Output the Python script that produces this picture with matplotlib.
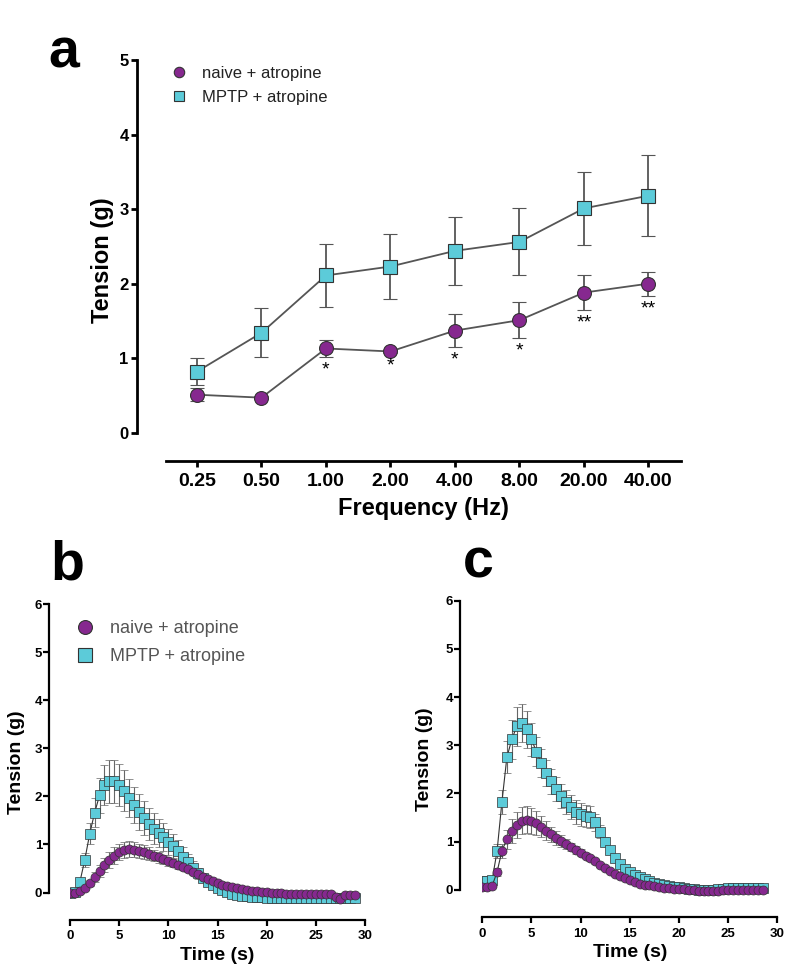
import numpy as np
import matplotlib.pyplot as plt
from matplotlib.lines import Line2D

plt.rcParams['font.family'] = ['Liberation Sans', 'DejaVu Sans']

# ---- panel a: tension vs stimulation frequency ----
freq_labels = ['0.25', '0.50', '1.00', '2.00', '4.00', '8.00', '20.00', '40.00']
naive_a = [0.51, 0.47, 1.13, 1.09, 1.37, 1.51, 1.88, 2.00]
naive_a_err = [0.09, 0.02, 0.12, 0.02, 0.22, 0.24, 0.24, 0.16]
mptp_a = [0.82, 1.34, 2.11, 2.23, 2.44, 2.56, 3.01, 3.18]
mptp_a_err = [0.18, 0.33, 0.42, 0.43, 0.46, 0.45, 0.49, 0.54]
stars_a = ['', '', '*', '*', '*', '*', '**', '**']

# ---- panel b: time course ----
time_b = np.arange(0, 29.5, 0.5)
naive_b = [0.00, 0.00, 0.03, 0.10, 0.20, 0.32, 0.45, 0.57, 0.68, 0.77,
           0.84, 0.88, 0.90, 0.89, 0.87, 0.84, 0.81, 0.77, 0.73, 0.69,
           0.65, 0.61, 0.57, 0.53, 0.48, 0.43, 0.38, 0.33, 0.28, 0.24,
           0.20, 0.16, 0.13, 0.11, 0.09, 0.07, 0.05, 0.04, 0.03, 0.02,
           0.01, 0.00, 0.00, -0.01, -0.02, -0.02, -0.02, -0.02, -0.02, -0.02,
           -0.02, -0.02, -0.02, -0.02, -0.10, -0.13, -0.06, -0.06, -0.06]
naive_b_err = [0.00, 0.00, 0.02, 0.04, 0.07, 0.10, 0.12, 0.14, 0.16, 0.17,
               0.17, 0.17, 0.17, 0.16, 0.15, 0.14, 0.13, 0.12, 0.11, 0.10,
               0.09, 0.08, 0.07, 0.07, 0.06, 0.05, 0.05, 0.04, 0.04, 0.03,
               0.03, 0.03, 0.02, 0.02, 0.02, 0.02, 0.02, 0.02, 0.02, 0.02,
               0.02, 0.02, 0.02, 0.02, 0.02, 0.02, 0.02, 0.02, 0.02, 0.02,
               0.02, 0.02, 0.02, 0.02, 0.02, 0.02, 0.02, 0.02, 0.02]
mptp_b = [0.00, 0.02, 0.22, 0.68, 1.22, 1.66, 2.02, 2.24, 2.31, 2.31,
          2.24, 2.12, 1.97, 1.82, 1.68, 1.55, 1.43, 1.33, 1.24, 1.15,
          1.06, 0.96, 0.86, 0.75, 0.63, 0.51, 0.40, 0.30, 0.22, 0.15,
          0.10, 0.05, 0.01, -0.02, -0.05, -0.07, -0.08, -0.09, -0.10, -0.10,
          -0.11, -0.11, -0.11, -0.11, -0.11, -0.11, -0.11, -0.11, -0.11, -0.11,
          -0.11, -0.11, -0.11, -0.11, -0.12, -0.12, -0.11, -0.11, -0.11]
mptp_b_err = [0.00, 0.02, 0.06, 0.14, 0.22, 0.30, 0.37, 0.42, 0.45, 0.45,
              0.44, 0.42, 0.40, 0.38, 0.37, 0.35, 0.33, 0.32, 0.30, 0.29,
              0.27, 0.25, 0.23, 0.20, 0.17, 0.14, 0.11, 0.08, 0.06, 0.05,
              0.04, 0.03, 0.03, 0.02, 0.02, 0.02, 0.02, 0.02, 0.02, 0.02,
              0.02, 0.02, 0.02, 0.02, 0.02, 0.02, 0.02, 0.02, 0.02, 0.02,
              0.02, 0.02, 0.02, 0.02, 0.02, 0.02, 0.02, 0.02, 0.02]

# ---- panel c: time course ----
time_c = np.arange(0, 29.0, 0.5)
naive_c = [0.05, 0.05, 0.08, 0.37, 0.81, 1.05, 1.22, 1.35, 1.43, 1.45,
           1.43, 1.38, 1.31, 1.23, 1.15, 1.08, 1.01, 0.95, 0.89, 0.83,
           0.77, 0.71, 0.65, 0.59, 0.52, 0.45, 0.39, 0.33, 0.28, 0.24,
           0.20, 0.16, 0.13, 0.11, 0.09, 0.07, 0.05, 0.04, 0.03, 0.02,
           0.02, 0.01, 0.00, -0.01, -0.02, -0.02, -0.03, -0.03, -0.02, -0.01,
           0.00, 0.00, 0.00, 0.00, 0.00, 0.00, 0.00, 0.00]
naive_c_err = [0.02, 0.02, 0.03, 0.08, 0.15, 0.20, 0.24, 0.27, 0.28, 0.28,
               0.27, 0.25, 0.22, 0.19, 0.16, 0.14, 0.12, 0.10, 0.09, 0.08,
               0.07, 0.06, 0.05, 0.05, 0.04, 0.04, 0.03, 0.03, 0.03, 0.02,
               0.02, 0.02, 0.02, 0.02, 0.02, 0.02, 0.02, 0.02, 0.02, 0.02,
               0.02, 0.02, 0.02, 0.02, 0.02, 0.02, 0.02, 0.02, 0.02, 0.02,
               0.02, 0.02, 0.02, 0.02, 0.02, 0.02, 0.02, 0.02]
mptp_c = [0.18, 0.18, 0.20, 0.80, 1.83, 2.75, 3.12, 3.39, 3.46, 3.33,
          3.12, 2.87, 2.63, 2.42, 2.25, 2.09, 1.94, 1.82, 1.71, 1.62,
          1.57, 1.53, 1.51, 1.40, 1.21, 1.00, 0.83, 0.66, 0.53, 0.43,
          0.36, 0.31, 0.26, 0.22, 0.18, 0.15, 0.12, 0.10, 0.08, 0.06,
          0.05, 0.03, 0.02, 0.01, 0.00, -0.01, -0.01, -0.01, 0.01, 0.02,
          0.03, 0.03, 0.04, 0.04, 0.04, 0.04, 0.04, 0.04]
mptp_c_err = [0.03, 0.03, 0.05, 0.15, 0.25, 0.33, 0.40, 0.40, 0.40, 0.38,
              0.34, 0.31, 0.29, 0.27, 0.26, 0.25, 0.25, 0.25, 0.25, 0.25,
              0.24, 0.23, 0.22, 0.18, 0.14, 0.10, 0.08, 0.06, 0.05, 0.04,
              0.04, 0.03, 0.03, 0.03, 0.02, 0.02, 0.02, 0.02, 0.02, 0.02,
              0.02, 0.02, 0.02, 0.02, 0.02, 0.02, 0.02, 0.02, 0.02, 0.02,
              0.02, 0.02, 0.02, 0.02, 0.02, 0.02, 0.02, 0.02]

purple = '#86288f'
cyan = '#5ccbd9'
edge = '#333333'

fig = plt.figure(figsize=(7.86, 9.72), dpi=100)


def style_axes(ax, lw, out):
    ax.spines['top'].set_visible(False)
    ax.spines['right'].set_visible(False)
    ax.spines['left'].set_linewidth(lw)
    ax.spines['bottom'].set_linewidth(lw)
    ax.spines['left'].set_position(('outward', out))
    ax.tick_params(width=lw, length=4, direction='out')


# panel a
ax = fig.add_axes([0.2112, 0.526, 0.6548, 0.4122])
x = np.arange(len(freq_labels))
ax.errorbar(x, mptp_a, yerr=mptp_a_err, fmt='-s', color='#555555', lw=1.3,
            ms=10, mfc=cyan, mec=edge, mew=0.8, ecolor='#555555',
            elinewidth=1.3, capsize=5, capthick=1.3)
ax.errorbar(x, naive_a, yerr=naive_a_err, fmt='-o', color='#555555', lw=1.3,
            ms=10, mfc=purple, mec=edge, mew=0.8, ecolor='#555555',
            elinewidth=1.3, capsize=5, capthick=1.3)
for xi, v, e, s in zip(x, naive_a, naive_a_err, stars_a):
    if s:
        ax.text(xi, v - e - 0.06, s, ha='center', va='top', fontsize=14)
ax.set_xlim(-0.48, 7.5)
ax.set_ylim(-0.376, 5)
style_axes(ax, 2, 21)
ax.spines['left'].set_bounds(0, 5)
ax.set_yticks([0, 1, 2, 3, 4, 5])
ax.set_xticks(x)
ax.set_xticklabels(freq_labels, fontsize=14, fontweight='bold')
for lab in ax.get_yticklabels():
    lab.set_fontsize(12)
    lab.set_fontweight('bold')
ax.tick_params(axis='x', pad=5)
ax.tick_params(axis='y', pad=2)
ax.set_ylabel('Tension (g)', fontsize=17, fontweight='bold', labelpad=4)
ax.set_xlabel('Frequency (Hz)', fontsize=17, fontweight='bold', labelpad=5)
handles = [Line2D([], [], ls='', marker='o', ms=7.5, mfc=purple, mec=edge, mew=0.8),
           Line2D([], [], ls='', marker='s', ms=7.5, mfc=cyan, mec=edge, mew=0.8)]
ax.legend(handles, ['naive + atropine', 'MPTP + atropine'], loc='upper left',
          bbox_to_anchor=(170.7 / 786, 1 - 66 / 972), bbox_transform=fig.transFigure,
          frameon=False, fontsize=12, handlelength=1.0, handletextpad=0.87,
          labelspacing=0.55, borderpad=0, borderaxespad=0, labelcolor='#222222')

# panels b and c
panels = [
    ([0.0891, 0.0535, 0.3753, 0.3251], time_b, naive_b, naive_b_err, mptp_b, mptp_b_err, 15, 7, True),
    ([0.6136, 0.0563, 0.3753, 0.3257], time_c, naive_c, naive_c_err, mptp_c, mptp_c_err, 16, 9, False),
]
for rect, t, nv, ne, mv, me, out, lpad, show_leg in panels:
    ax = fig.add_axes(rect)
    ax.errorbar(t, mv, yerr=me, fmt='-s', color='#333333', lw=0.8, ms=6.5,
                mfc=cyan, mec=edge, mew=0.5, ecolor='#666666', elinewidth=0.8,
                capsize=3, capthick=0.8)
    ax.errorbar(t, nv, yerr=ne, fmt='-o', color='#333333', lw=0.8, ms=6.5,
                mfc=purple, mec=edge, mew=0.5, ecolor='#666666', elinewidth=0.8,
                capsize=3, capthick=0.8)
    ax.set_xlim(0, 30)
    ax.set_ylim(-0.57, 6)
    style_axes(ax, 1.6, out)
    ax.spines['left'].set_bounds(0, 6)
    ax.set_xticks([0, 5, 10, 15, 20, 25, 30])
    ax.set_yticks([0, 1, 2, 3, 4, 5, 6])
    for lab in ax.get_xticklabels() + ax.get_yticklabels():
        lab.set_fontsize(9.5)
        lab.set_fontweight('bold')
    ax.tick_params(axis='y', pad=1)
    ax.set_xlabel('Time (s)', fontsize=14, fontweight='bold', labelpad=3)
    ax.set_ylabel('Tension (g)', fontsize=14, fontweight='bold', labelpad=lpad)
    if show_leg:
        handles = [Line2D([], [], ls='', marker='o', ms=10, mfc=purple, mec=edge, mew=0.8),
                   Line2D([], [], ls='', marker='s', ms=10, mfc=cyan, mec=edge, mew=0.8)]
        ax.legend(handles, ['naive + atropine', 'MPTP + atropine'], loc='upper left',
                  bbox_to_anchor=(76 / 786, 1 - 620 / 972), bbox_transform=fig.transFigure,
                  frameon=False, fontsize=13, handlelength=1.0, handletextpad=0.89,
                  labelspacing=0.6, borderpad=0, borderaxespad=0, labelcolor='#555555')

fig.text(48 / 786, 1 - 67 / 972, 'a', fontsize=40, fontweight='bold', va='baseline')
fig.text(50 / 786, 1 - 580 / 972, 'b', fontsize=40, fontweight='bold', va='baseline')
fig.text(463 / 786, 1 - 577 / 972, 'c', fontsize=40, fontweight='bold', va='baseline')

fig.savefig('out.png', dpi=100)
